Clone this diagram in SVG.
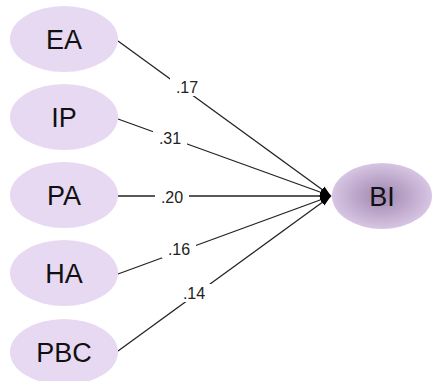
<svg xmlns="http://www.w3.org/2000/svg" width="432" height="381" viewBox="0 0 432 381">
<defs>
<radialGradient id="bigrad" cx="50%" cy="50%" r="50%">
<stop offset="0%" stop-color="#9f86af"/>
<stop offset="100%" stop-color="#d7c5e3"/>
</radialGradient>
<marker id="arr" viewBox="0 0 10 10" refX="10" refY="5" markerWidth="11" markerHeight="11" markerUnits="userSpaceOnUse" orient="auto">
<path d="M0,1.5 L10,5 L0,8.5 z" fill="#000"/>
</marker>
<style>
.n{fill:#e8d9f3;}
.t{font-family:"Liberation Sans",Arial,sans-serif;font-size:27px;fill:#111;text-anchor:middle;dominant-baseline:central;}
.e{stroke:#222;stroke-width:1.3;fill:none;marker-end:url(#arr);}
.lb{fill:#fff;}
.l{font-family:"Liberation Sans",Arial,sans-serif;font-size:16px;fill:#222;text-anchor:middle;dominant-baseline:central;}
</style>
</defs>
<g id="connectors">
<line class="e" x1="118" y1="41" x2="331" y2="196"/>
<line class="e" x1="118" y1="119" x2="331" y2="196"/>
<line class="e" x1="118" y1="196" x2="331" y2="196"/>
<line class="e" x1="118" y1="274" x2="331" y2="196"/>
<line class="e" x1="118" y1="351" x2="331" y2="196"/>
<rect class="lb" x="170" y="78" width="34" height="18"/>
<text class="l" x="187" y="87">.17</text>
<rect class="lb" x="153" y="129" width="34" height="18"/>
<text class="l" x="170" y="138">.31</text>
<rect class="lb" x="155" y="188" width="34" height="18"/>
<text class="l" x="172" y="197">.20</text>
<rect class="lb" x="162" y="240" width="34" height="18"/>
<text class="l" x="179" y="249">.16</text>
<rect class="lb" x="177" y="284" width="34" height="18"/>
<text class="l" x="194" y="293">.14</text>
</g>
<g id="EA"><ellipse class="n" cx="64" cy="39" rx="54" ry="33"/><text class="t" x="64" y="40">EA</text></g>
<g id="IP"><ellipse class="n" cx="64" cy="117" rx="54" ry="33"/><text class="t" x="64" y="118">IP</text></g>
<g id="PA"><ellipse class="n" cx="64" cy="195" rx="54" ry="33"/><text class="t" x="64" y="196">PA</text></g>
<g id="HA"><ellipse class="n" cx="64" cy="273" rx="54" ry="33"/><text class="t" x="64" y="274">HA</text></g>
<g id="PBC"><ellipse class="n" cx="64" cy="352" rx="54" ry="33"/><text class="t" x="64" y="353">PBC</text></g>
<g id="BI"><ellipse cx="382" cy="196" rx="50" ry="33" fill="url(#bigrad)"/><text class="t" x="382" y="197">BI</text></g>
</svg>
